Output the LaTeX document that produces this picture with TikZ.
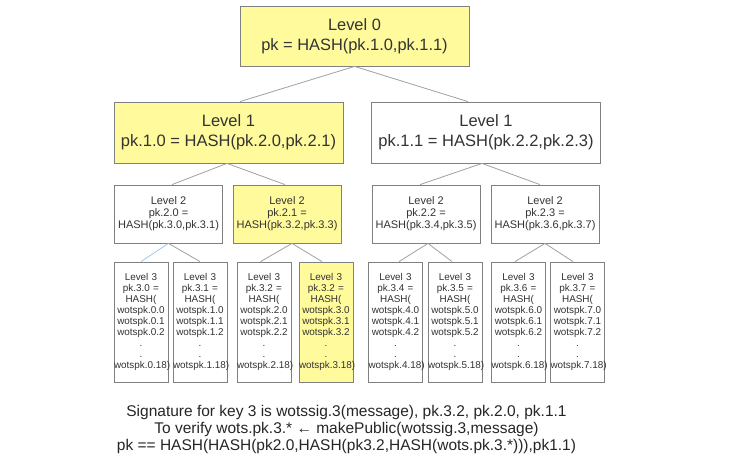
\documentclass[tikz,border=0pt]{standalone}
\usepackage{fontspec}
\setmainfont{Liberation Sans}
\usetikzlibrary{calc}
\definecolor{hl}{HTML}{FFFA9C}
\definecolor{bd}{HTML}{808080}
\definecolor{ed}{HTML}{A0A0A0}
\definecolor{bl}{HTML}{A9C5EB}
\definecolor{tx}{HTML}{333333}
\begin{document}
\begin{tikzpicture}[x=1pt,y=-1pt,
  box/.style={draw=bd, line width=0.8pt, fill=white, text=tx, align=center, inner sep=0pt},
  hi/.style={fill=hl},
  lzero/.style={box, minimum width=229pt, minimum height=60pt, font=\fontsize{16.4}{20}\selectfont},
  lone/.style={box, minimum width=229pt, minimum height=61pt, font=\fontsize{16.5}{20}\selectfont},
  ltwo/.style={box, minimum width=108pt, minimum height=58pt, font=\fontsize{11}{12}\selectfont},
  lthree/.style={box, text width=54pt, minimum height=120pt, font=\fontsize{9.9}{11}\selectfont},
  edge/.style={draw=ed, line width=0.8pt},
  bedge/.style={draw=bl, line width=0.8pt}]
\useasboundingbox (0,0) rectangle (750,457);
\fill[white] (0,0) rectangle (750,457);

\node[lzero, hi] (l0) at (354.5,36) {Level 0\\pk = HASH(pk.1.0,pk.1.1)};

\node[lone, hi] (l1a) at (228.5,132.5) {Level 1\\pk.1.0 = HASH(pk.2.0,pk.2.1)};
\node[lone] (l1b) at (486,132.5) {Level 1\\pk.1.1 = HASH(pk.2.2,pk.2.3)};

\node[ltwo] (l20) at (168.5,214) {Level 2\\pk.2.0 =\\HASH(pk.3.0,pk.3.1)};
\node[ltwo, hi] (l21) at (287,214) {Level 2\\pk.2.1 =\\HASH(pk.3.2,pk.3.3)};
\node[ltwo] (l22) at (426,214) {Level 2\\pk.2.2 =\\HASH(pk.3.4,pk.3.5)};
\node[ltwo] (l23) at (545,214) {Level 2\\pk.2.3 =\\HASH(pk.3.6,pk.3.7)};

\node[lthree] (l30) at (141,322) {Level 3\\pk.3.0 =\\HASH(\\wotspk.0.0\\wotspk.0.1\\wotspk.0.2\\.\\.\\wotspk.0.18)};
\node[lthree] (l31) at (200,322) {Level 3\\pk.3.1 =\\HASH(\\wotspk.1.0\\wotspk.1.1\\wotspk.1.2\\.\\.\\wotspk.1.18)};
\node[lthree] (l32) at (264,322) {Level 3\\pk.3.2 =\\HASH(\\wotspk.2.0\\wotspk.2.1\\wotspk.2.2\\.\\.\\wotspk.2.18)};
\node[lthree, hi] (l33) at (326,322) {Level 3\\pk.3.2 =\\HASH(\\wotspk.3.0\\wotspk.3.1\\wotspk.3.2\\.\\.\\wotspk.3.18)};
\node[lthree] (l34) at (395.5,322) {Level 3\\pk.3.4 =\\HASH(\\wotspk.4.0\\wotspk.4.1\\wotspk.4.2\\.\\.\\wotspk.4.18)};
\node[lthree] (l35) at (455,322) {Level 3\\pk.3.5 =\\HASH(\\wotspk.5.0\\wotspk.5.1\\wotspk.5.2\\.\\.\\wotspk.5.18)};
\node[lthree] (l36) at (518.5,322) {Level 3\\pk.3.6 =\\HASH(\\wotspk.6.0\\wotspk.6.1\\wotspk.6.2\\.\\.\\wotspk.6.18)};
\node[lthree] (l37) at (577.5,322) {Level 3\\pk.3.7 =\\HASH(\\wotspk.7.0\\wotspk.7.1\\wotspk.7.2\\.\\.\\wotspk.7.18)};

\draw[edge] (l0.south) -- ($(l1a.north)+(11.5,0)$);
\draw[edge] (l0.south) -- ($(l1b.north)+(-18,0)$);

\draw[edge] ($(l1a.south)+(-1.5,0)$) -- ($(l20.north)+(3.5,0)$);
\draw[edge] ($(l1a.south)+(-1.5,0)$) -- ($(l21.north)+(-2,0)$);
\draw[edge] ($(l1b.south)+(-4,0)$) -- ($(l22.north)+(-6,0)$);
\draw[edge] ($(l1b.south)+(-4,0)$) -- ($(l23.north)+(-5,0)$);

\draw[bedge] (l20.south) -- (l30.north);
\draw[edge] (l20.south) -- (l31.north);
\draw[edge] ($(l21.south)+(5,0)$) -- ($(l32.north)+(-3.5,0)$);
\draw[edge] ($(l21.south)+(5,0)$) -- ($(l33.north)+(-4,0)$);
\draw[edge] ($(l22.south)+(2,0)$) -- ($(l34.north)+(3.5,0)$);
\draw[edge] ($(l22.south)+(2,0)$) -- ($(l35.north)+(-3,0)$);
\draw[edge] (l23.south) -- ($(l36.north)+(-3.5,0)$);
\draw[edge] (l23.south) -- ($(l37.north)+(-4.5,0)$);

\node[align=center, inner sep=0pt, text=black!85, font=\fontsize{15.5}{17}\selectfont] (sig) at (346.5,429)
  {Signature for key 3 is wotssig.3(message), pk.3.2, pk.2.0, pk.1.1\\
   To verify wots.pk.3.* ← makePublic(wotssig.3,message)\\
   pk == HASH(HASH(pk2.0,HASH(pk3.2,HASH(wots.pk.3.*))),pk1.1)};
\end{tikzpicture}
\end{document}
